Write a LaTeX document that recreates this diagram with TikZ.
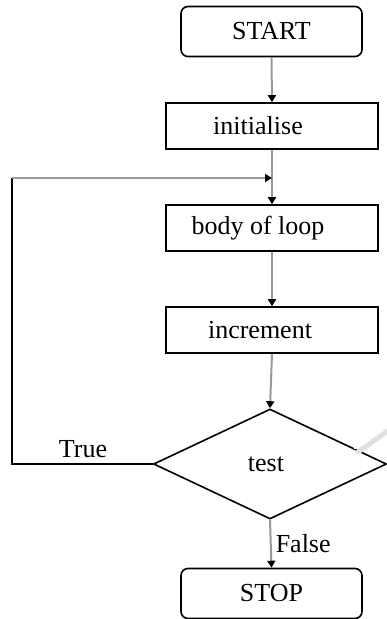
\documentclass[tikz,border=0pt]{standalone}
\usepackage{fontspec}
\setmainfont{Liberation Serif}
\usetikzlibrary{shapes.geometric,arrows.meta}
\begin{document}
\begin{tikzpicture}[x=1pt,y=-1pt,
  every node/.style={font=\fontsize{26}{30}\selectfont},
  terminal/.style={draw=black, line width=1.6pt, rounded corners=7pt,
    minimum width=181pt, minimum height=50pt, inner sep=0pt},
  procbox/.style={draw=black, line width=1.6pt,
    minimum width=212pt, minimum height=46pt, inner sep=0pt},
  decision/.style={draw=black, line width=1.6pt, diamond, aspect=2.1,
    minimum width=233pt, minimum height=110pt, inner sep=0pt},
  flow/.style={draw=black!40, line width=2pt,
    -{Triangle[black, length=7pt, width=8pt]}},
  loopline/.style={draw=black, line width=1.6pt},
  lbl/.style={inner sep=0pt}
]
\useasboundingbox (0,0) rectangle (386,619);

% terminals, steps and the test
\node[terminal] (start) at (271.5,31.5) {START};
\node[procbox] (init) at (272,126) {\hspace*{-28pt}initialise};
\node[procbox] (body) at (272,228) {\hspace*{-28pt}body of loop};
\node[procbox] (inc)  at (272,330) {\hspace*{-24pt}increment};
\node[decision] (test) at (270,464) {\hspace*{-8pt}test};
\node[terminal] (stop) at (271.5,593.5) {STOP};

% loop-back corner points
\coordinate (lc) at (12,178);
\coordinate (jn) at (272,178);

% main flow
\draw[flow] (start.south) -- (init.north);
\draw[flow] (init.south) -- (body.north);
\draw[flow] (body.south) -- (inc.north);
\draw[flow] (inc.south) -- (test.north);
\draw[flow] (test.south) -- (stop.north)
  node[lbl, pos=0.5, anchor=west, xshift=4pt] {False};

% loop back on True
\draw[loopline] (test.west) -| (lc);
\draw[flow] (lc) -- (jn);
\node[lbl] (truelbl) at (83,449) {True};

% faint pointer edge at the right side
\draw[black!12, line width=5pt, line cap=round] (358,452) -- (392,428);
\draw[white, line width=2.5pt, line cap=round] (355,448) -- (392,420);
\end{tikzpicture}
\end{document}
